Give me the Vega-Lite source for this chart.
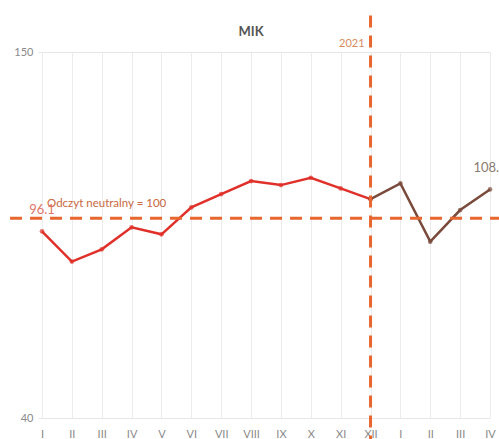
{
  "$schema": "https://vega.github.io/schema/vega-lite/v6.json",
  "width": 448,
  "height": 366,
  "autosize": {"type": "none"},
  "padding": {"left": 42, "top": 52, "right": 9, "bottom": 21},
  "background": "white",
  "config": {
    "view": {"stroke": null},
    "font": "Lato",
    "axisX": {"labelOverlap": false, "tickCount": 16, "values": [0,1,2,3,4,5,6,7,8,9,10,11,12,13,14,15]}
  },
  "datasets": {
    "series": [
      {"i": 0, "m": "I", "value": 96.1, "s": "a"},
      {"i": 1, "m": "II", "value": 87.0, "s": "a"},
      {"i": 2, "m": "III", "value": 90.7, "s": "a"},
      {"i": 3, "m": "IV", "value": 97.3, "s": "a"},
      {"i": 4, "m": "V", "value": 95.2, "s": "a"},
      {"i": 5, "m": "VI", "value": 103.3, "s": "a"},
      {"i": 6, "m": "VII", "value": 107.3, "s": "a"},
      {"i": 7, "m": "VIII", "value": 111.2, "s": "a"},
      {"i": 8, "m": "IX", "value": 110.0, "s": "a"},
      {"i": 9, "m": "X", "value": 112.2, "s": "a"},
      {"i": 10, "m": "XI", "value": 109.0, "s": "a"},
      {"i": 11, "m": "XII", "value": 105.8, "s": "a"},
      {"i": 11, "m": "XII", "value": 105.8, "s": "b"},
      {"i": 12, "m": "I", "value": 110.5, "s": "b"},
      {"i": 13, "m": "II", "value": 93.0, "s": "b"},
      {"i": 14, "m": "III", "value": 102.5, "s": "b"},
      {"i": 15, "m": "IV", "value": 108.7, "s": "b"}
    ]
  },
  "layer": [
    {
      "data": {"name": "series"},
      "mark": {"type": "line", "strokeWidth": 2.5},
      "encoding": {
        "x": {
          "field": "i",
          "type": "quantitative",
          "scale": {"domain": [0, 15], "nice": false, "zero": false},
          "axis": {
            "values": [0,1,2,3,4,5,6,7,8,9,10,11,12,13,14,15],
            "tickCount": 16,
            "labelExpr": "['I','II','III','IV','V','VI','VII','VIII','IX','X','XI','XII','I','II','III','IV'][datum.value]",
            "labelOverlap": false,
            "labelBound": false,
            "labelFlush": false,
            "title": null,
            "grid": true,
            "gridColor": "#ececec",
            "gridWidth": 1,
            "domain": false,
            "ticks": false,
            "labelPadding": 10,
            "labelFontSize": 11,
            "labelColor": "#8a8a8a",
            "labelFont": "Lato"
          }
        },
        "y": {
          "field": "value",
          "type": "quantitative",
          "scale": {"domain": [40, 150], "nice": false, "zero": false},
          "axis": {
            "values": [40, 150],
            "title": null,
            "grid": true,
            "gridColor": "#e6e6e6",
            "domain": false,
            "ticks": true,
            "tickSize": 4,
            "tickColor": "#e6e6e6",
            "labelPadding": 5,
            "labelFontSize": 11,
            "labelColor": "#8a8a8a",
            "labelFont": "Lato"
          }
        },
        "color": {
          "field": "s",
          "type": "nominal",
          "scale": {"domain": ["a", "b"], "range": ["#e0302a", "#7a4b3c"]},
          "legend": null
        },
        "order": {"field": "i", "type": "quantitative"}
      }
    },
    {
      "data": {"name": "series"},
      "mark": {"type": "point", "filled": true, "size": 22},
      "encoding": {
        "x": {"field": "i", "type": "quantitative"},
        "y": {"field": "value", "type": "quantitative"},
        "color": {"field": "s", "type": "nominal", "legend": null}
      }
    },
    {
      "data": {"values": [{"y": 100, "x1": -1.07, "x2": 16}]},
      "mark": {"type": "rule", "color": "#e8662f", "strokeWidth": 3, "strokeDash": [12, 8], "clip": false},
      "encoding": {
        "y": {"field": "y", "type": "quantitative"},
        "x": {"field": "x1", "type": "quantitative"},
        "x2": {"field": "x2"}
      }
    },
    {
      "data": {"values": [{"x": 11, "y1": 161, "y2": 33}]},
      "mark": {"type": "rule", "color": "#e8662f", "strokeWidth": 3, "strokeDash": [12, 8], "clip": false},
      "encoding": {
        "x": {"field": "x", "type": "quantitative"},
        "y": {"field": "y1", "type": "quantitative"},
        "y2": {"field": "y2"}
      }
    },
    {
      "data": {"values": [{"x": 7, "y": 156, "t": "MIK"}]},
      "mark": {"type": "text", "align": "center", "baseline": "middle", "fontSize": 13, "fontWeight": "bold", "color": "#555555", "font": "Lato"},
      "encoding": {
        "x": {"field": "x", "type": "quantitative"},
        "y": {"field": "y", "type": "quantitative"},
        "text": {"field": "t"}
      }
    },
    {
      "data": {"values": [{"x": 11, "y": 152.4, "t": "2021"}]},
      "mark": {"type": "text", "align": "right", "baseline": "middle", "dx": -6, "fontSize": 11, "color": "#d98a5c", "font": "Lato"},
      "encoding": {
        "x": {"field": "x", "type": "quantitative"},
        "y": {"field": "y", "type": "quantitative"},
        "text": {"field": "t"}
      }
    },
    {
      "data": {"values": [{"x": 0, "y": 100, "t": "Odczyt neutralny = 100"}]},
      "mark": {"type": "text", "align": "left", "baseline": "middle", "dx": 5, "dy": -14, "fontSize": 11.5, "color": "#c8683e", "font": "Lato"},
      "encoding": {
        "x": {"field": "x", "type": "quantitative"},
        "y": {"field": "y", "type": "quantitative"},
        "text": {"field": "t"}
      }
    },
    {
      "data": {"values": [{"x": 0, "y": 96.1, "t": "96.1", "c": "#e0766a"}, {"x": 15, "y": 108.7, "t": "108.7", "c": "#8a7a70"}]},
      "mark": {"type": "text", "align": "center", "baseline": "middle", "dy": -21, "fontSize": 13, "font": "Lato"},
      "encoding": {
        "x": {"field": "x", "type": "quantitative"},
        "y": {"field": "y", "type": "quantitative"},
        "text": {"field": "t"},
        "color": {"field": "c", "type": "nominal", "scale": null}
      }
    }
  ]
}
